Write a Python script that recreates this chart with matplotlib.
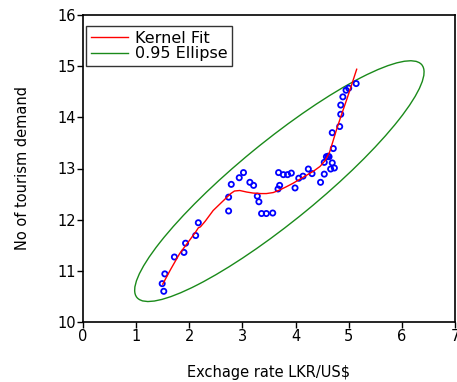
import matplotlib
matplotlib.use("Agg")
import matplotlib.pyplot as plt
from matplotlib.patches import Ellipse

plt.rcParams["font.family"] = ["DejaVu Sans"]

# dati
exch_rate = [1.52, 1.49, 1.54, 1.72, 1.90, 1.93, 2.12, 2.17, 2.74, 2.74,
             2.79, 2.94, 3.02, 3.14, 3.21, 3.28, 3.31, 3.36, 3.45, 3.57,
             3.67, 3.70, 3.68, 3.77, 3.85, 3.92, 3.99, 4.06, 4.14, 4.24,
             4.31, 4.47, 4.54, 4.54, 4.58, 4.61, 4.63, 4.66, 4.69, 4.73,
             4.71, 4.69, 4.83, 4.85, 4.85, 4.89, 4.95, 5.00, 5.14]
tourism = [10.60, 10.75, 10.94, 11.27, 11.36, 11.54, 11.69, 11.94, 12.17, 12.44,
           12.69, 12.82, 12.92, 12.73, 12.67, 12.46, 12.35, 12.12, 12.12, 12.13,
           12.60, 12.67, 12.92, 12.88, 12.88, 12.91, 12.62, 12.81, 12.85, 12.99,
           12.90, 12.73, 12.89, 13.12, 13.23, 13.24, 13.23, 12.99, 13.11, 13.01,
           13.39, 13.70, 13.82, 14.06, 14.24, 14.40, 14.53, 14.57, 14.66]

# curva kernel (letta a mano)
kernel_x = [1.50, 1.65, 1.82, 2.00, 2.12, 2.17, 2.21, 2.30, 2.45, 2.58, 2.70,
            2.78, 2.85, 2.95, 3.08, 3.20, 3.35, 3.45, 3.58, 3.70, 3.82,
            3.95, 4.08, 4.21, 4.34, 4.46, 4.56, 4.64, 4.70, 4.78, 4.88,
            4.96, 5.05, 5.15]
kernel_y = [10.74, 11.03, 11.34, 11.59, 11.76, 11.84, 11.86, 11.97, 12.18, 12.31, 12.43,
            12.51, 12.56, 12.57, 12.54, 12.52, 12.51, 12.51, 12.53, 12.58, 12.64,
            12.71, 12.79, 12.87, 12.95, 13.04, 13.16, 13.32, 13.52, 13.79, 14.10,
            14.34, 14.62, 14.94]

# ellisse 0.95: parametri stimati dal grafico (coordinate dati)
ell_center = (3.695, 12.753)
ell_width = 7.03
ell_height = 1.54
ell_angle = 40.4

GREEN = "#1a8a1a"

fig = plt.figure(figsize=(4.57, 3.82), dpi=100)
ax = fig.add_axes([83 / 457, 1 - 322 / 382, (455 - 83) / 457, (322 - 15) / 382])

ax.add_patch(Ellipse(ell_center, ell_width, ell_height, angle=ell_angle,
                     fill=False, edgecolor=GREEN, linewidth=1.0, zorder=2))
ax.plot([], [], color="red", linewidth=1.0, label="Kernel Fit")
ax.plot([], [], color=GREEN, linewidth=1.0, label="0.95 Ellipse")

ax.scatter(exch_rate, tourism, s=14, facecolors="none", edgecolors="blue",
           linewidths=1.3, zorder=3)
ax.plot(kernel_x, kernel_y, color="red", linewidth=1.0, zorder=4)

ax.set_xlim(0, 7)
ax.set_ylim(10, 16)
ax.set_xticks(range(0, 8))
ax.set_yticks(range(10, 17))
ax.tick_params(direction="out", length=4, width=1, labelsize=10.5, pad=1)
for s in ax.spines.values():
    s.set_linewidth(1.2)

ax.set_xlabel("Exchage rate LKR/US$", fontsize=10.5, labelpad=15)
ax.set_ylabel("No of tourism demand", fontsize=10.5, labelpad=20)

leg = ax.legend(loc="upper left", fontsize=11.5, frameon=True, fancybox=False,
                edgecolor="black", bbox_to_anchor=(0.008, 0.965),
                borderaxespad=0, handlelength=2.3, handletextpad=0.45,
                borderpad=0.3, labelspacing=0.05)
leg.get_frame().set_linewidth(1.0)

plt.savefig("out.png", dpi=100)
plt.close(fig)
